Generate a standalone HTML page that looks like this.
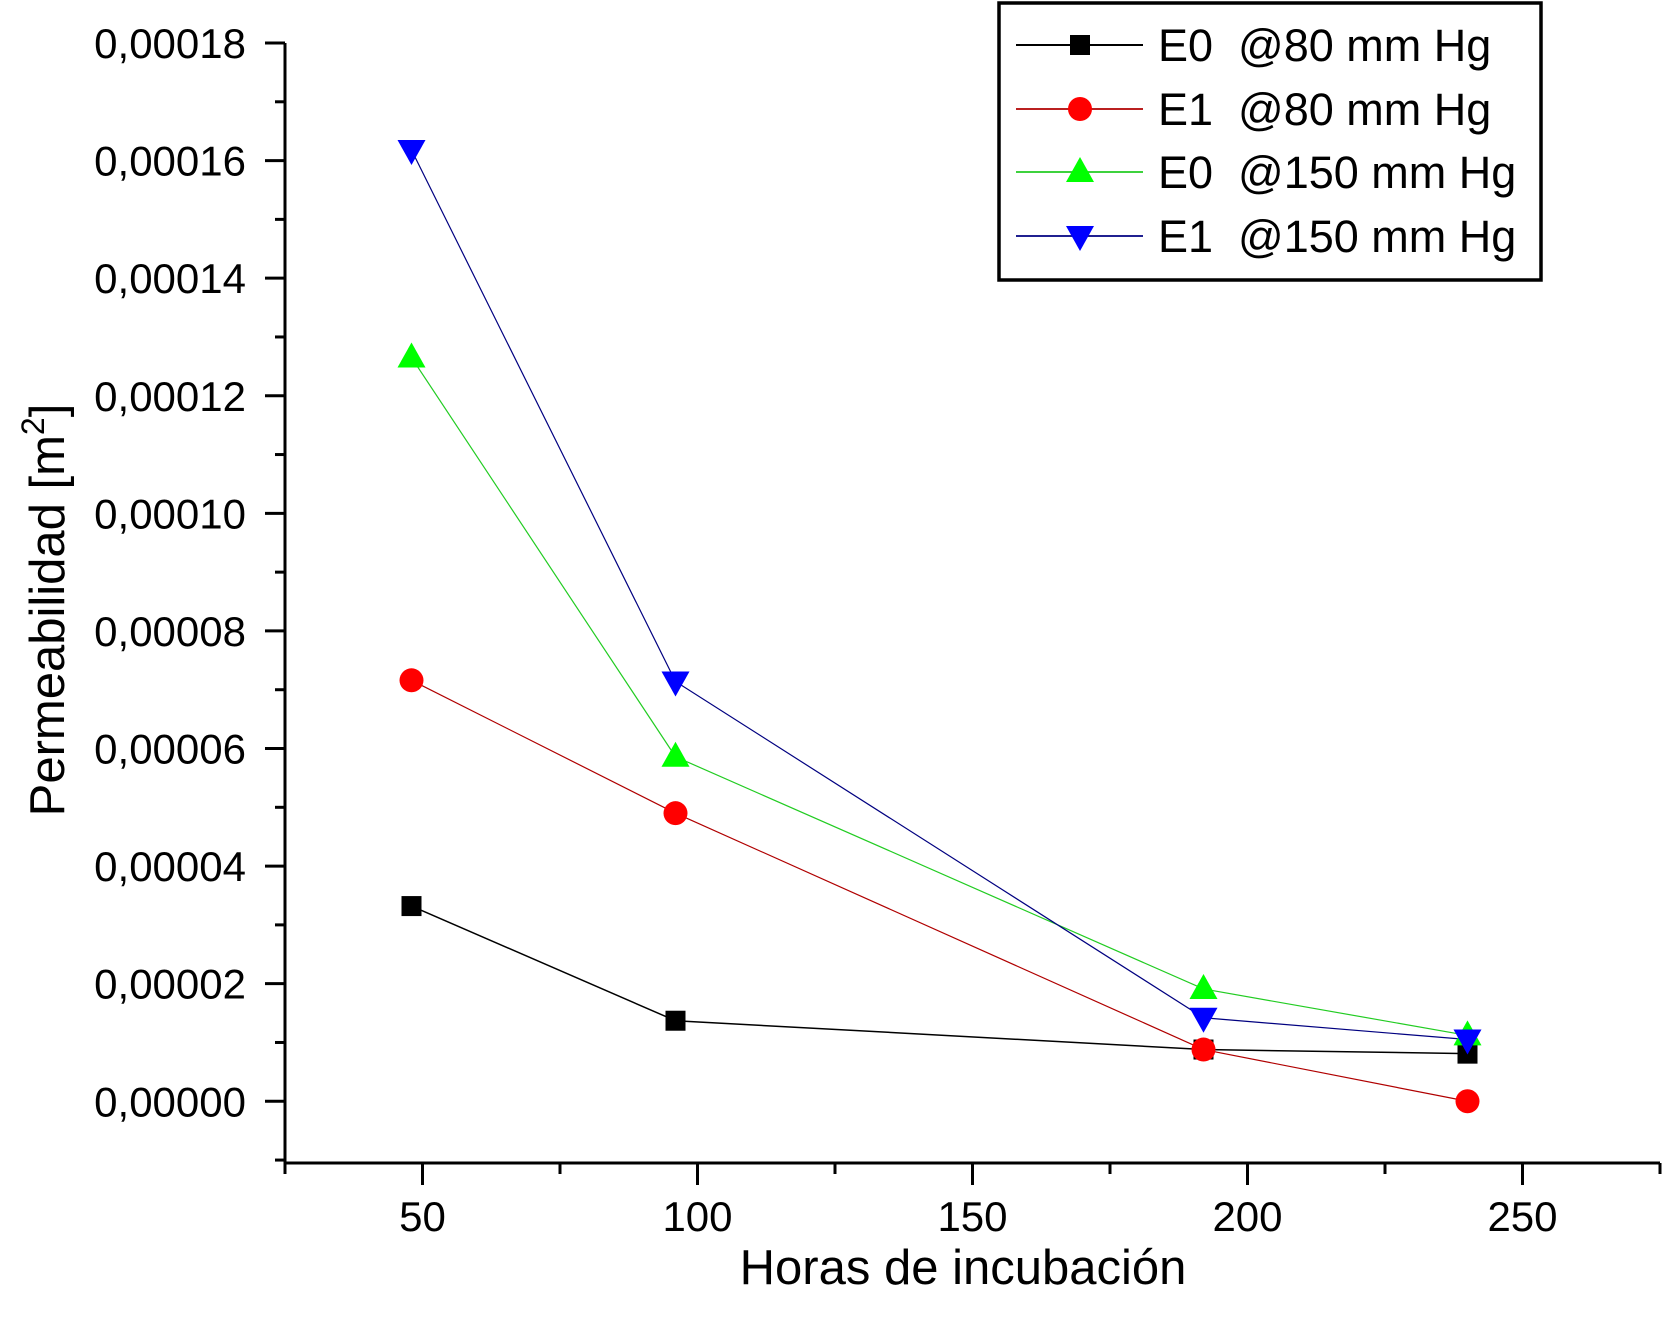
<!DOCTYPE html>
<html><head><meta charset="utf-8"><style>
html,body{margin:0;padding:0;background:#fff;}
svg{display:block;font-family:"Liberation Sans",Arial,sans-serif;}
</style></head><body>
<svg id="chart" width="1662" height="1337" viewBox="0 0 1662 1337" xmlns="http://www.w3.org/2000/svg">
<g id="axes"></g>
<g id="series"></g>
<g id="legend"></g>
</svg>
<script>
const hours = [48, 96, 192, 240];
const e0_80 = [3.32e-5, 1.37e-5, 0.88e-5, 0.81e-5];
const e1_80 = [7.16e-5, 4.9e-5, 0.88e-5, 0.0];
const e0_150 = [1.265e-4, 5.86e-5, 1.91e-5, 1.12e-5];
const e1_150 = [1.618e-4, 7.14e-5, 1.42e-5, 1.05e-5];
const seriesNames = ["E0  @80 mm Hg", "E1  @80 mm Hg", "E0  @150 mm Hg", "E1  @150 mm Hg"];
const yTickLabels = ["0,00000","0,00002","0,00004","0,00006","0,00008","0,00010","0,00012","0,00014","0,00016","0,00018"];
const xTickLabels = ["50","100","150","200","250"];

const NS = "http://www.w3.org/2000/svg";
const X0 = 285, X1 = 1660, Y0 = 1163, Y1 = 43;
const xMin = 25, xMax = 275;
const yMax = 0.00018, yMin = -0.0000105;
function sx(v){ return X0 + (v - xMin) / (xMax - xMin) * (X1 - X0); }
function sy(v){ return Y0 - (v - yMin) / (yMax - yMin) * (Y0 - Y1); }
function mk(tag, attrs, parent){ const e = document.createElementNS(NS, tag); for (const k in attrs) e.setAttribute(k, attrs[k]); parent.appendChild(e); return e; }

const axes = document.getElementById('axes');
let l = mk('line', {x1:X0, y1:Y1, x2:X0, y2:Y0+1.5, stroke:'#000','stroke-width':3}, axes);


l = mk('line', {x1:X0-1.5, y1:Y0, x2:X1, y2:Y0, stroke:'#000','stroke-width':3}, axes);



for (let i = 0; i < yTickLabels.length; i++) {
  const v = i * 0.00002, y = sy(v);
  mk('line', {x1:X0-20, y1:y, x2:X0, y2:y, stroke:'#000','stroke-width':3}, axes);
  const t = mk('text', {x:246, y:y+15, 'text-anchor':'end', 'font-size':42, fill:'#000'}, axes);
  t.textContent = yTickLabels[i];
  
  
  const ym = sy(v - 0.00001);
  if (ym < Y0 - 2) mk('line', {x1:X0-10, y1:ym, x2:X0, y2:ym, stroke:'#000','stroke-width':3}, axes);
}
for (let i = 0; i < xTickLabels.length; i++) {
  const v = +xTickLabels[i], x = sx(v);
  mk('line', {x1:x, y1:Y0, x2:x, y2:Y0+22, stroke:'#000','stroke-width':3}, axes);
  const t = mk('text', {x:x, y:1231, 'text-anchor':'middle', 'font-size':42, fill:'#000'}, axes);
  t.textContent = xTickLabels[i];
  
  
}
for (let v = 25; v <= 275; v += 50) {
  const x = sx(v);
  mk('line', {x1:x, y1:Y0, x2:x, y2:Y0+11, stroke:'#000','stroke-width':3}, axes);
}
let t = mk('text', {x:963, y:1284, 'text-anchor':'middle', 'font-size':49, fill:'#000'}, axes);
t.textContent = 'Horas de incubación';


t = mk('text', {x:0, y:0, 'text-anchor':'middle', 'font-size':49, fill:'#000', transform:'translate(64,610) rotate(-90)'}, axes);
t.innerHTML = 'Permeabilidad [m<tspan dy="-20" font-size="32">2</tspan><tspan dy="20">]</tspan>';



function marker(kind, x, y, color, parent){
  let m;
  if (kind === 'square') m = mk('rect', {x:x-10, y:y-10, width:20, height:20, fill:color}, parent);
  else if (kind === 'circle') m = mk('circle', {cx:x, cy:y, r:12, fill:color}, parent);
  else if (kind === 'up') m = mk('polygon', {points:`${x},${y-15} ${x+14},${y+10} ${x-14},${y+10}`, fill:color}, parent);
  else m = mk('polygon', {points:`${x-14},${y-10} ${x+14},${y-10} ${x},${y+15}`, fill:color}, parent);
  return m;
}

const allSeries = [
  {vals:e0_80, line:'#000', color:'#000', kind:'square', w:1.5},
  {vals:e1_80, line:'#b00000', color:'#ff0000', kind:'circle', w:1.2},
  {vals:e0_150, line:'#22cc22', color:'#00ff00', kind:'up', w:1.2},
  {vals:e1_150, line:'#000080', color:'#0000ff', kind:'down', w:1.2}
];
const sg = document.getElementById('series');
allSeries.forEach((s, si) => {
  const g = mk('g', {}, sg);
  
  
  const pts = hours.map((h, i) => sx(h) + ',' + sy(s.vals[i])).join(' ');
  const pl = mk('polyline', {points:pts, fill:'none', stroke:s.line, 'stroke-width':s.w}, g);
  
  
});
allSeries.forEach((s) => {
  hours.forEach((h, i) => {
    const m = marker(s.kind, sx(h), sy(s.vals[i]), s.color, sg);
    
    
  });
});

const lg = document.getElementById('legend');
const box = mk('rect', {x:999, y:3, width:542, height:277, fill:'#fff', stroke:'#000', 'stroke-width':3.5}, lg);


const legY = [45, 109, 172, 236];
allSeries.forEach((s, i) => {
  const g = mk('g', {}, lg);
  
  
  mk('line', {x1:1016, y1:legY[i], x2:1143, y2:legY[i], stroke:s.line, 'stroke-width':s.w+0.5}, g);
  marker(s.kind, 1080, legY[i], s.color, g);
  const tt = mk('text', {x:1158, y:legY[i]+16, 'font-size':45, fill:'#000', 'xml:space':'preserve', style:'white-space:pre'}, g);
  tt.textContent = seriesNames[i];
});
</script>
</body></html>
